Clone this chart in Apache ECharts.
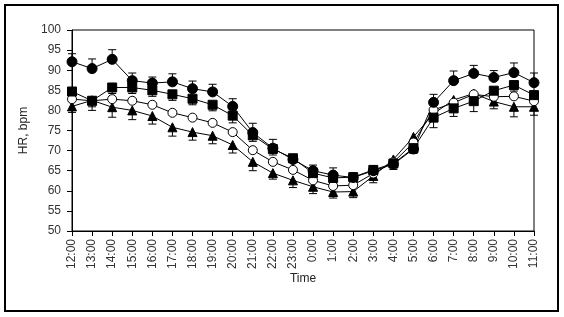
<!DOCTYPE html>
<html>
<head>
<meta charset="utf-8">
<script src="https://cdn.jsdelivr.net/npm/echarts@6/dist/echarts.min.js"></script>
<style>
  html, body { margin: 0; padding: 0; background: #fff; }
  #main { width: 564px; height: 317px; }
</style>
</head>
<body>
<div id="main"></div>
<script>
// categories (hours)
var hours = ['12:00','13:00','14:00','15:00','16:00','17:00','18:00','19:00','20:00','21:00','22:00','23:00',
             '0:00','1:00','2:00','3:00','4:00','5:00','6:00','7:00','8:00','9:00','10:00','11:00'];

// filled circles
var circleVals = [92.1, 90.4, 92.7, 87.4, 86.8, 87.1, 85.4, 84.6, 81.0, 74.5, 70.6, 67.8,
                  65.0, 63.9, 63.3, 65.0, 66.6, 70.4, 82.0, 87.4, 89.2, 88.2, 89.4, 86.9];
var circleErr  = [2.0, 2.4, 2.4, 1.9, 1.5, 2.0, 1.9, 1.9, 1.9, 2.3, 2.2, 0.8,
                  1.4, 1.8, 0.5, 0.5, 1.0, 1.0, 2.0, 2.4, 2.0, 1.7, 2.4, 2.4];
// filled squares
var squareVals = [84.7, 82.4, 85.7, 85.7, 85.0, 84.0, 82.9, 81.4, 78.7, 73.8, 70.4, 68.1,
                  64.4, 63.2, 63.4, 65.2, 66.8, 70.6, 78.2, 80.5, 82.3, 84.9, 86.3, 83.8];
var squareErr  = [1.5, 1.5, 1.5, 1.5, 1.5, 1.5, 1.5, 1.5, 1.8, 1.5, 1.5, 1.0,
                  1.0, 1.0, 1.0, 1.0, 1.5, 1.3, 2.5, 2.0, 2.6, 1.5, 1.5, 1.5];
// open circles
var openVals   = [82.8, 82.4, 82.8, 82.4, 81.4, 79.4, 78.2, 76.9, 74.6, 70.1, 67.2, 65.2,
                  62.6, 61.2, 61.4, 64.3, 67.1, 72.0, 80.1, 81.9, 84.0, 83.4, 83.5, 82.3];
// filled triangles
var triVals    = [81.0, 82.5, 80.8, 80.0, 78.6, 75.8, 74.6, 73.7, 71.4, 67.2, 64.4, 62.6,
                  61.0, 59.7, 59.8, 63.7, 67.8, 73.4, 79.2, 82.6, 84.2, 82.2, 80.9, 80.9];
var triErr     = [1.5, 2.5, 2.5, 2.3, 2.0, 2.2, 2.0, 2.0, 2.0, 2.2, 1.5, 1.8,
                  1.7, 1.5, 1.5, 1.7, 1.5, 1.0, 1.5, 1.7, 1.5, 1.8, 2.5, 2.1];

var yTicks = { min: 50, max: 100, step: 5 };

function errData(vals, errs, dir) {
  return vals.map(function (v, i) {
    return dir > 0 ? [i, v, v + errs[i]] : [i, v - errs[i], v];
  });
}

// error bar drawn as a custom series, cap on one end only
function errSeries(data, capAtLow) {
  return {
    type: 'custom',
    silent: true,
    z: 1,
    data: data,
    renderItem: function (params, api) {
      var lo = api.coord([api.value(0), api.value(1)]);
      var hi = api.coord([api.value(0), api.value(2)]);
      var cap = capAtLow ? lo : hi;
      var w = 4;
      var st = { stroke: '#000', lineWidth: 1 };
      return {
        type: 'group',
        children: [
          { type: 'line', shape: { x1: lo[0], y1: lo[1], x2: hi[0], y2: hi[1] }, style: st },
          { type: 'line', shape: { x1: cap[0] - w, y1: cap[1], x2: cap[0] + w, y2: cap[1] }, style: st }
        ]
      };
    }
  };
}

function lineSeries(name, vals, symbol, fill, size) {
  return {
    name: name,
    type: 'line',
    data: vals,
    z: 3,
    symbol: symbol,
    symbolSize: size,
    showAllSymbol: true,
    lineStyle: { color: '#000', width: 1 },
    itemStyle: { color: fill, borderColor: '#000', borderWidth: 1 },
    emphasis: { disabled: true },
    animation: false
  };
}

var chart = echarts.init(document.getElementById('main'));
var option = {
  backgroundColor: '#fff',
  animation: false,
  textStyle: { fontFamily: 'Liberation Sans Narrow, Liberation Sans, sans-serif' },
  graphic: [{
    type: 'rect',
    shape: { x: 5, y: 5, width: 553, height: 306 },
    style: { fill: 'none', stroke: '#000', lineWidth: 2 },
    silent: true
  }],
  grid: { left: 72, right: 30, top: 30, bottom: 86, show: true, borderColor: '#000', borderWidth: 1 },
  xAxis: {
    type: 'category',
    data: hours,
    boundaryGap: false,
    name: 'Time',
    nameLocation: 'middle',
    nameGap: 42,
    nameMoveOverlap: false,
    nameTextStyle: { color: '#222', fontSize: 12 },
    axisLine: { lineStyle: { color: '#000', width: 1 } },
    axisTick: { alignWithLabel: true, length: 5, lineStyle: { color: '#000' } },
    axisLabel: { rotate: 90, interval: 0, color: '#333', fontSize: 12, margin: 8 },
    splitLine: { show: false }
  },
  yAxis: {
    type: 'value',
    min: yTicks.min,
    max: yTicks.max,
    interval: yTicks.step,
    name: 'HR, bpm',
    nameLocation: 'middle',
    nameGap: 42,
    nameMoveOverlap: false,
    nameTextStyle: { color: '#222', fontSize: 12 },
    axisLine: { show: true, lineStyle: { color: '#000', width: 1 } },
    axisTick: { show: true, length: 5, lineStyle: { color: '#000' } },
    axisLabel: { color: '#333', fontSize: 12, margin: 11 },
    splitLine: { show: false }
  },
  series: [
    errSeries(errData(circleVals, circleErr, 1), false),
    errSeries(errData(squareVals, squareErr, -1), true),
    errSeries(errData(triVals, triErr, -1), true),
    lineSeries('triangles', triVals, 'triangle', '#000', 9),
    lineSeries('open', openVals, 'circle', '#fff', 9),
    lineSeries('squares', squareVals, 'rect', '#000', 9),
    lineSeries('circles', circleVals, 'circle', '#000', 10)
  ]
};
chart.setOption(option);
</script>
</body>
</html>
